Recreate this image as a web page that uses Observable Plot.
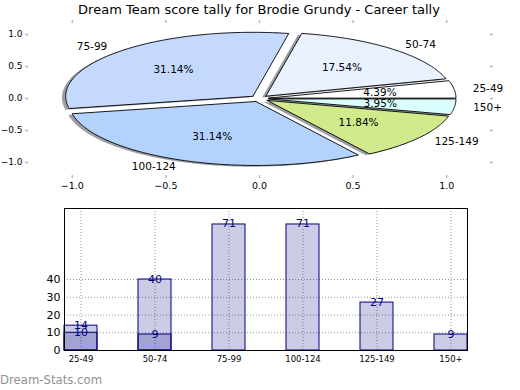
<!DOCTYPE html>
<html><head><meta charset="utf-8">
<script src="https://cdn.jsdelivr.net/npm/d3@7"></script>
<script src="https://cdn.jsdelivr.net/npm/@observablehq/plot@0.6"></script>
<style>
body{margin:0;background:#fff;font-family:"DejaVu Sans",sans-serif;}
#wrap{position:relative;width:520px;height:390px;overflow:hidden;background:#fff;}
#pie{position:absolute;left:0;top:0;}
#bars{position:absolute;left:0;top:195px;}
#title{position:absolute;top:1px;left:0;width:518px;text-align:center;font-size:13px;color:#000;line-height:17px;}
#wm{position:absolute;left:0;top:373px;font-size:11.7px;color:#919191;line-height:14px;}
</style></head><body>
<div id="wrap"><div id="pie"></div><div id="bars"></div><div id="title">Dream Team score tally for Brodie Grundy - Career tally</div><div id="wm">Dream-Stats.com</div></div>
<script>
const categories = ["25-49","50-74","75-99","100-124","125-149","150+"];
const pieValues = [10,40,71,71,27,9];
const pieColors = ["#ffffff","#eaf1fe","#c5d9fe","#b3d3fe","#d0ea8c","#dafefe"];
const barTotals = [14,40,71,71,27,9];
const barSecond = [10,9,0,0,0,0];
const pieTicks = [-1,-0.5,0,0.5,1];
const barYTicks = [0,10,20,30,40];
const explode = 0.05;

const total = d3.sum(pieValues);
let cum = 0;
const slices = categories.map((c,i)=>{
  const f = pieValues[i]/total;
  const t1 = cum*2*Math.PI; cum += f; const t2 = cum*2*Math.PI;
  const mid = (t1+t2)/2;
  return {c, f, t1, t2, mid, cx: explode*Math.cos(mid), cy: explode*Math.sin(mid)};
});
const wedgePts = [];
for (const s of slices) {
  const n = Math.max(2, Math.ceil((s.t2-s.t1)/(Math.PI/180)));
  wedgePts.push({c:s.c, x:s.cx, y:s.cy});
  for (let k=0;k<=n;k++){ const t = s.t1+(s.t2-s.t1)*k/n; wedgePts.push({c:s.c, x:s.cx+Math.cos(t), y:s.cy+Math.sin(t)}); }
  wedgePts.push({c:s.c, x:s.cx, y:s.cy});
}
const labelPts = slices.map(s=>({t:s.c, x:s.cx+1.1*Math.cos(s.mid), y:s.cy+1.1*Math.sin(s.mid)}));
const pctPts = slices.map(s=>({t:(s.f*100).toFixed(2)+"%", x:s.cx+0.6*Math.cos(s.mid), y:s.cy+0.6*Math.sin(s.mid)}));
const fmt = d3.format(".1f");

const piePlot = Plot.plot({
  width:520, height:195, marginLeft:25, marginRight:27, marginTop:20, marginBottom:17,
  style:{fontFamily:"DejaVu Sans", fontSize:"10.5px", background:"transparent"},
  x:{domain:[-1.25,1.25], label:null},
  y:{domain:[-1.25,1.22], label:null},
  color:{domain:categories, range:pieColors},
  marks:[
    Plot.axisX({ticks:pieTicks, tickSize:0, tickPadding:4, tickFormat:fmt, label:null, fontSize:9.5}),
    Plot.axisY({ticks:pieTicks, tickSize:0, tickPadding:3, tickFormat:fmt, label:null, fontSize:9}),
    Plot.tickX(pieTicks, {x:d=>d, insetBottom:155, stroke:"#bbb", strokeWidth:1.5}),
    Plot.tickX(pieTicks, {x:d=>d, insetTop:155, stroke:"#bbb", strokeWidth:1.5}),
    Plot.tickY(pieTicks, {y:d=>d, insetRight:465, stroke:"#bbb", strokeWidth:1.5}),
    Plot.tickY(pieTicks, {y:d=>d, insetLeft:465, stroke:"#bbb", strokeWidth:1.5}),
    Plot.line(wedgePts, {x:d=>d.x-0.02, y:d=>d.y-0.02, z:"c", fill:"#3c3f45", fillOpacity:0.5, stroke:"none"}),
    Plot.line(wedgePts, {x:"x", y:"y", z:"c", fill:"c", stroke:"#000", strokeWidth:0.9, strokeLinejoin:"miter", curve:"linear"}),
    Plot.text(labelPts.filter(d=>d.x>0), {x:"x", y:"y", text:"t", textAnchor:"start", fontSize:10.5, fill:"#000"}),
    Plot.text(labelPts.filter(d=>d.x<=0), {x:"x", y:"y", text:"t", textAnchor:"end", fontSize:10.5, fill:"#000"}),
    Plot.text(pctPts, {x:"x", y:"y", text:"t", fontSize:10.5, fill:"#000"})
  ]
});
document.getElementById("pie").append(piePlot);

const barData = categories.map((c,i)=>({c, total:barTotals[i], second:barSecond[i]}));
const secData = barData.filter(d=>d.second>0);
const navy = "#000080";
const barPlot = Plot.plot({
  width:520, height:195, marginLeft:64, marginRight:53, marginTop:13, marginBottom:40,
  style:{fontFamily:"DejaVu Sans", fontSize:"10.5px", background:"transparent"},
  x:{domain:categories, paddingInner:0.554, paddingOuter:0, round:false, label:null},
  y:{domain:[0,80], label:null},
  marks:[
    Plot.gridY(barYTicks, {stroke:"#999", strokeOpacity:1, strokeDasharray:"1,2"}),
    Plot.gridX({stroke:"#999", strokeOpacity:1, strokeDasharray:"1,2"}),
    Plot.barY(barData, {x:"c", y:"total", fill:navy, fillOpacity:0.2, stroke:navy, strokeWidth:1}),
    Plot.barY(secData, {x:"c", y:"second", fill:navy, fillOpacity:0.2, stroke:navy, strokeWidth:1}),
    Plot.text(barData, {x:"c", y:"total", text:d=>String(d.total), lineAnchor:"bottom", dy:3, fill:navy, fontSize:11}),
    Plot.text(secData, {x:"c", y:"second", text:d=>String(d.second), lineAnchor:"bottom", dy:3, fill:navy, fontSize:11}),
    Plot.frame({stroke:"#000"}),
    Plot.axisY({ticks:barYTicks, tickSize:0, tickPadding:4, label:null, fontSize:11}),
    Plot.axisX({tickSize:0, tickPadding:5, label:null, fontSize:8.5})
  ]
});
document.getElementById("bars").append(barPlot);
</script>
</body></html>
